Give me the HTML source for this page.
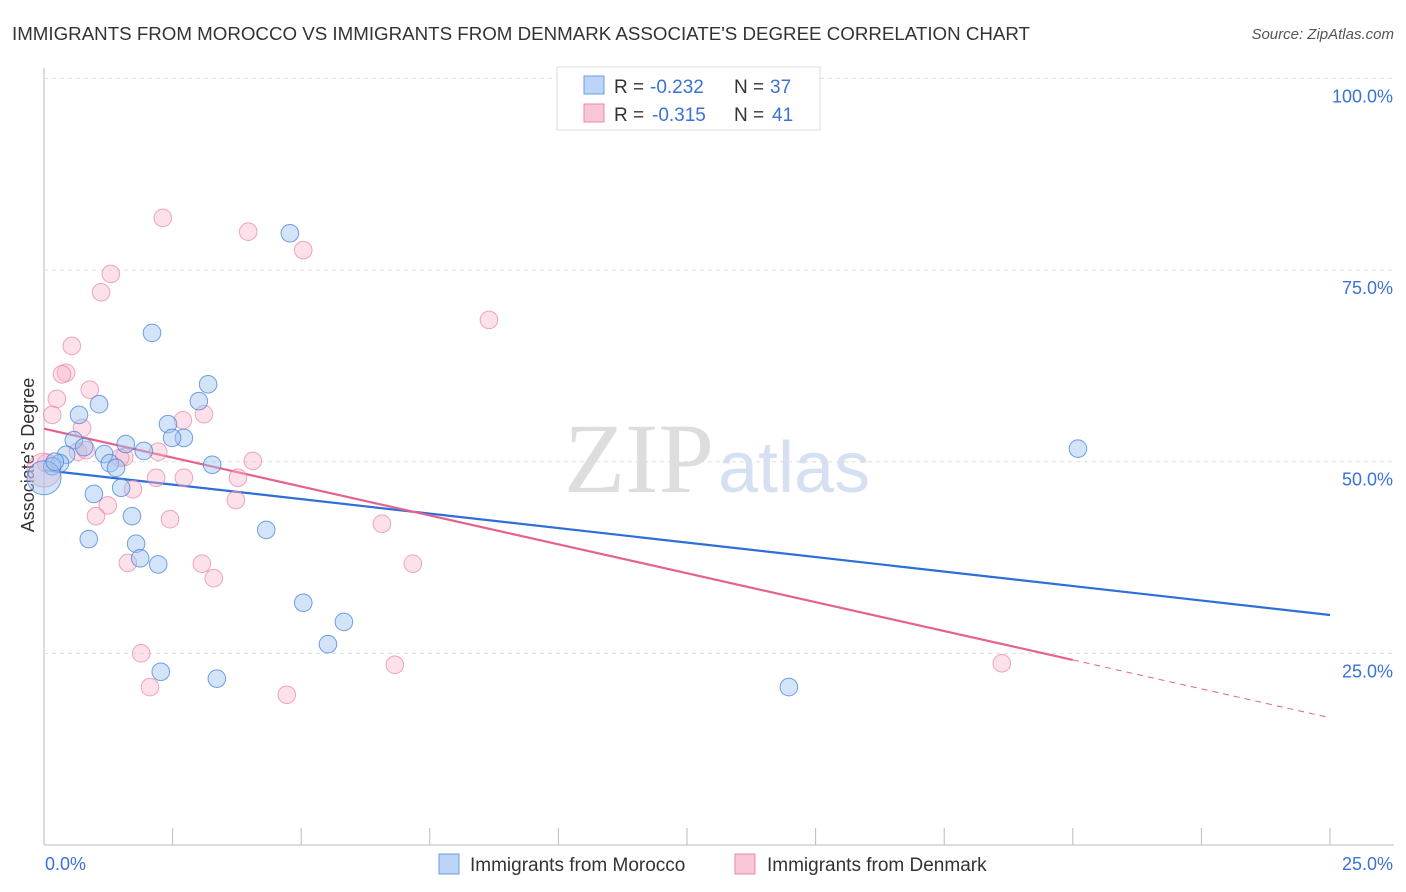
<!DOCTYPE html>
<html><head><meta charset="utf-8"><style>
body{margin:0;background:#fff;font-family:"Liberation Sans",sans-serif}
svg{display:block}
</style></head><body>
<svg id="c" width="1406" height="892">
<text x="12" y="40" font-size="18" fill="#333" textLength="1018" lengthAdjust="spacingAndGlyphs">IMMIGRANTS FROM MOROCCO VS IMMIGRANTS FROM DENMARK ASSOCIATE'S DEGREE CORRELATION CHART</text>
<text x="1394" y="39" font-size="15" font-style="italic" fill="#555" text-anchor="end">Source: ZipAtlas.com</text>
<text x="714" y="492" font-size="100" font-family="Liberation Serif" fill="#ddd" text-anchor="end">ZIP</text>
<text x="718" y="492" font-size="72" fill="#d5e1f2">atlas</text>
<text transform="translate(34,455) rotate(-90)" font-size="18" fill="#333" text-anchor="middle">Associate's Degree</text>
<g id="grid"></g><g id="lines"></g><g id="pts"></g>
<g>
<rect x="557" y="67" width="263" height="63" fill="#fff" stroke="#ddd"/>
<rect x="584" y="76" width="20" height="18" fill="#bcd4f7" stroke="#6a9be0"/>
<rect x="584" y="104" width="20" height="18" fill="#f8c6d6" stroke="#e88aa9"/>
<g font-size="19" fill="#333">
<text x="614" y="93">R =</text><text x="650" y="93" fill="#3a72d6">-0.232</text><text x="734" y="93">N =</text><text x="770" y="93" fill="#3a72d6">37</text></g>
<g font-size="19" fill="#333">
<text x="614" y="121">R =</text><text x="652" y="121" fill="#3a72d6">-0.315</text><text x="734" y="121">N =</text><text x="772" y="121" fill="#3a72d6">41</text></g>
</g>
<g>
<rect x="439" y="854" width="20" height="20" fill="#bcd4f7" stroke="#6a9be0"/>
<text x="470" y="871" font-size="19" fill="#333">Immigrants from Morocco</text>
<rect x="735" y="854" width="20" height="20" fill="#f8c6d6" stroke="#e88aa9"/>
<text x="767" y="871" font-size="19" fill="#333">Immigrants from Denmark</text>
</g>
</svg>
<script>
const yTicks=[25,50,75,100];
const yTickLabels=["25.0%","50.0%","75.0%","100.0%"];
const xTickCount=10;
const moroccoX=[4.78,2.10,3.19,1.07,3.01,0.68,2.41,2.72,2.49,0.58,1.59,1.94,0.78,1.17,0.43,0.31,0.16,1.28,3.27,1.40,1.50,0.97,1.71,0.87,1.79,1.87,2.22,4.32,5.04,5.83,5.52,2.27,3.36,14.48,20.10,0,0.21];
const moroccoY=[79.8,66.8,60.1,57.5,57.9,56.1,54.9,53.1,53.1,52.8,52.3,51.4,51.9,51.0,50.9,49.8,49.4,49.8,49.6,49.2,46.6,45.8,42.9,39.9,39.3,37.4,36.6,41.1,31.6,29.1,26.2,22.6,21.7,20.6,51.7,47.9,50.0];
const moroccoBig=[35];
const denmarkX=[2.31,3.97,5.04,1.30,1.11,8.65,0.54,0.43,0.35,0.89,0.25,0.16,3.11,2.70,0.74,0.66,0.82,2.22,1.56,1.48,4.06,0.04,2.18,2.72,3.77,1.73,3.73,1.24,1.01,2.45,6.57,7.17,3.07,1.63,3.30,1.89,2.06,6.82,4.72,18.62,0];
const denmarkY=[81.8,80.0,77.6,74.5,72.1,68.5,65.1,61.6,61.4,59.4,58.2,56.1,56.2,55.4,54.4,51.3,51.5,51.3,50.6,50.5,50.1,49.8,47.9,47.9,47.9,46.4,45.0,44.3,42.9,42.5,41.9,36.7,36.7,36.8,34.8,25.0,20.6,23.5,19.6,23.7,48.9];
const denmarkBig=[40];
const moroccoTrend=[48.9,30.0];
const denmarkTrend=[54.3,16.6];
const denmarkSolidEnd=20;

const NS="http://www.w3.org/2000/svg";
const X=v=>44+v/25*1286, Y=v=>845-v/100*766.6;
function mk(t,a,p){const e=document.createElementNS(NS,t);for(const k in a)e.setAttribute(k,a[k]);p.appendChild(e);return e;}
const grid=document.getElementById('grid'),lines=document.getElementById('lines'),pts=document.getElementById('pts');
let ax=mk('line',{x1:44,y1:68,x2:44,y2:845,stroke:'#bbb'},grid);


let bx=mk('line',{x1:44,y1:845,x2:1394,y2:845,stroke:'#bbb'},grid);


yTicks.forEach((t,i)=>{
 let g=mk('line',{x1:44,x2:1394,y1:Y(t),y2:Y(t),stroke:'#ddd','stroke-dasharray':'4,4'},grid);
 
 
 let l=mk('text',{x:1393,y:Y(t)+24,'font-size':18,fill:'#3a72d6','text-anchor':'end'},grid);
 l.textContent=yTickLabels[i];
 
 
});
for(let i=1;i<=xTickCount;i++){
 let k=mk('line',{x1:X(i*2.5),x2:X(i*2.5),y1:828,y2:845,stroke:'#bbb'},grid);
 
 
}
let x0=mk('text',{x:45,y:870,'font-size':18,fill:'#3a72d6'},grid);x0.textContent='0.0%';


let x1=mk('text',{x:1393,y:870,'font-size':18,fill:'#3a72d6','text-anchor':'end'},grid);x1.textContent='25.0%';



function drawPts(xs,ys,big,fill,stroke,name){
 xs.forEach((x,i)=>{
  const c=mk('circle',{cx:X(x),cy:Y(ys[i]),r:big.includes(i)?17:8.8,fill:fill,stroke:stroke,'stroke-width':1},pts);
  
  
 });
}
drawPts(denmarkX,denmarkY,denmarkBig,'rgba(248,180,202,0.4)','rgba(232,130,165,0.7)','denmark-point');
drawPts(moroccoX,moroccoY,moroccoBig,'rgba(160,195,240,0.45)','rgba(70,130,220,0.75)','morocco-point');
let bl=mk('line',{x1:X(0),y1:Y(moroccoTrend[0]),x2:X(25),y2:Y(moroccoTrend[1]),stroke:'#2d6fd8','stroke-width':2.2},lines);


const pAt=v=>denmarkTrend[0]+(denmarkTrend[1]-denmarkTrend[0])*v/25;
let pl=mk('line',{x1:X(0),y1:Y(pAt(0)),x2:X(denmarkSolidEnd),y2:Y(pAt(denmarkSolidEnd)),stroke:'#e5628f','stroke-width':2.2},lines);


let pd=mk('line',{x1:X(denmarkSolidEnd),y1:Y(pAt(denmarkSolidEnd)),x2:X(25),y2:Y(pAt(25)),stroke:'#e5628f','stroke-width':1,'stroke-dasharray':'6,5'},lines);


</script>
</body></html>
